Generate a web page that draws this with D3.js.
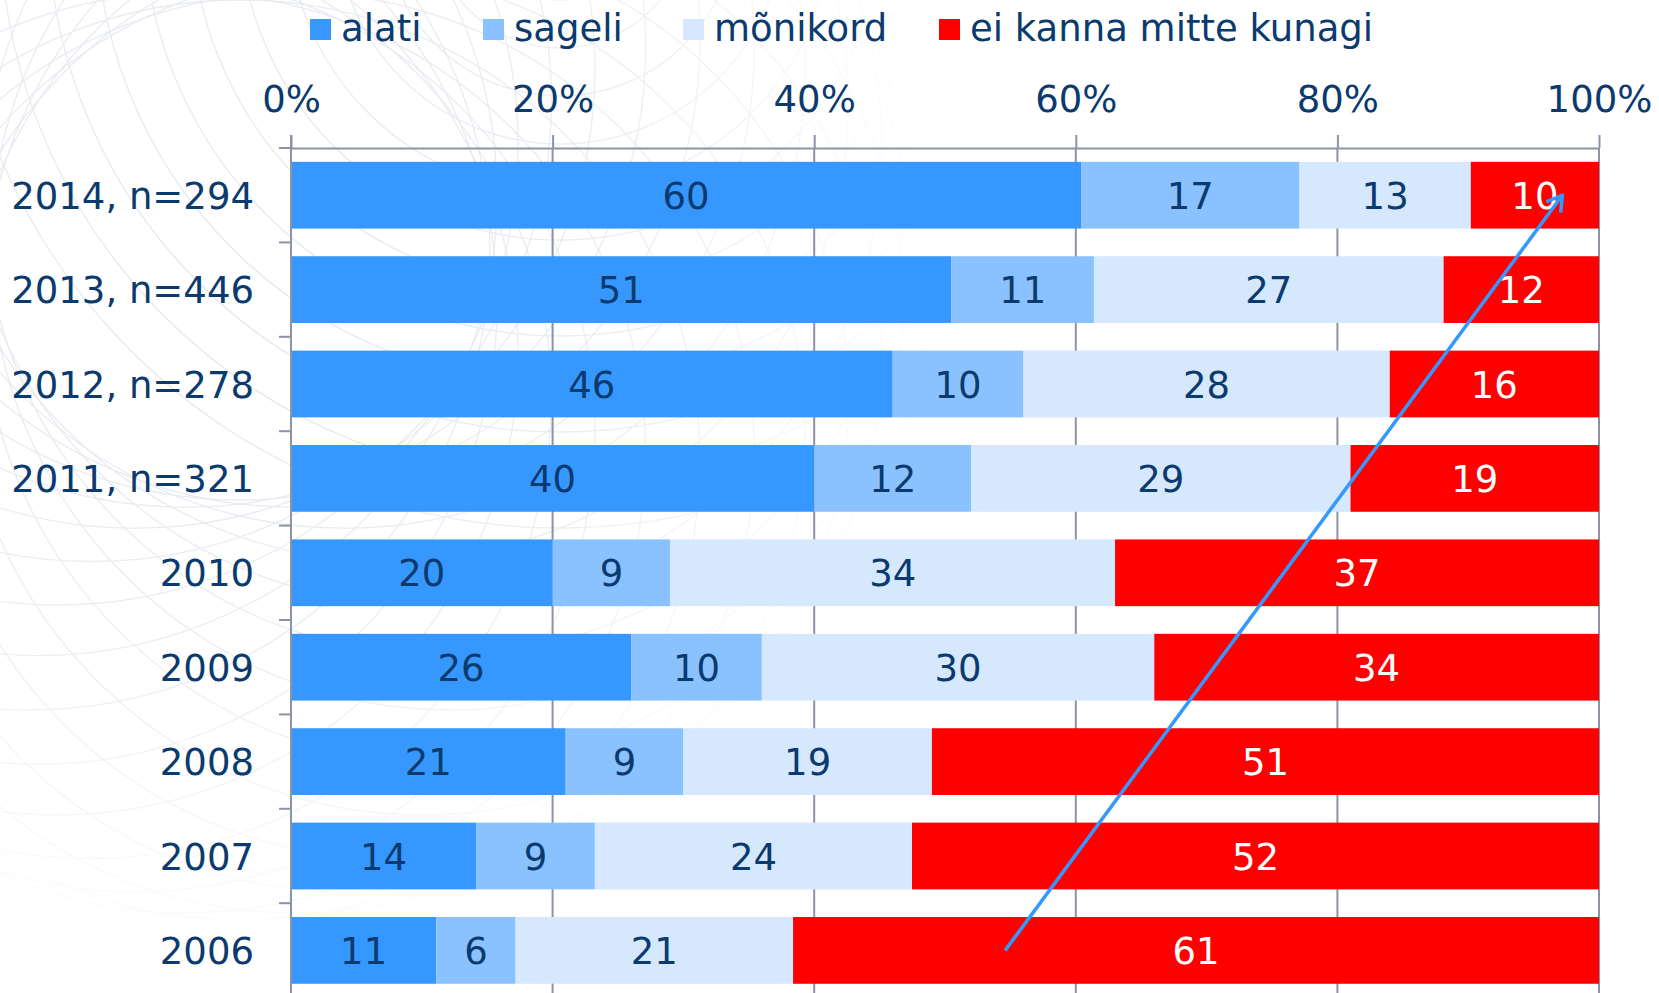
<!DOCTYPE html>
<html lang="et">

<head>
    <meta charset="UTF-8">
    <title>kiivri kandmine</title>
    <style>
        body {
            margin: 0;
            background: #fff;
        }

        svg text {
            font-family: "DejaVu Sans", Verdana, sans-serif;
            font-size: 37px;
            fill: #0b3a6e;
        }

        .grid line,
        .frame line,
        .axis path,
        .axis line {
            stroke: #8c93a5;
            stroke-width: 2;
        }
    </style>
</head>

<body>
    <script src="https://d3js.org/d3.v7.min.js"></script>
    <svg id="svg"></svg>
    <script>
        // andmed (protsendid, tulbad normeeritakse 100%-le)
        var categories = ["2014, n=294", "2013, n=446", "2012, n=278", "2011, n=321",
            "2010", "2009", "2008", "2007", "2006"];
        var seriesNames = ["alati", "sageli", "mõnikord", "ei kanna mitte kunagi"];
        var alati = [60.4, 51, 46, 40, 20, 26, 21, 14, 11];
        var sageli = [16.7, 11, 10, 12, 9, 10, 9, 9, 6];
        var monikord = [13.1, 27, 28, 29, 34, 30, 19, 24, 21];
        var eiKanna = [9.8, 12, 16, 19, 37, 34, 51, 52, 61];
        var tickValues = [0, 0.2, 0.4, 0.6, 0.8, 1];
        // trendinool: [osakaal, kategooria]
        var arrowFrom = [0.546, "2006"];
        var arrowTo = [0.972, "2014, n=294"];

        var colors = ["#3698fe", "#89c2ff", "#d5e8fd", "#ff0000"];
        var labelColors = ["#0b3a6e", "#0b3a6e", "#0b3a6e", "#ffffff"];

        var w = 1659,
            h = 993;

        var svg = d3.select("svg")
            .attr("width", w)
            .attr("height", h);

        // taustamuster (dekoratiivne)
        var defs = svg.append("defs");
        var grad = defs.append("radialGradient")
            .attr("id", "fade")
            .attr("gradientUnits", "userSpaceOnUse")
            .attr("cx", 230).attr("cy", 260).attr("r", 720);
        grad.append("stop").attr("offset", "0").attr("stop-color", "#fff").attr("stop-opacity", 1);
        grad.append("stop").attr("offset", "0.6").attr("stop-color", "#fff").attr("stop-opacity", 0.7);
        grad.append("stop").attr("offset", "1").attr("stop-color", "#fff").attr("stop-opacity", 0);
        defs.append("mask").attr("id", "bgmask")
            .append("rect")
            .attr("width", w).attr("height", h)
            .attr("fill", "url(#fade)");

        var bg = svg.append("g")
            .attr("mask", "url(#bgmask)")
            .attr("fill", "none")
            .attr("stroke", "#e3e7ed")
            .attr("stroke-width", 1.3);
        bg.selectAll("circle.ros")
            .data(d3.range(0, 360, 15))
            .enter().append("circle")
            .attr("class", "ros")
            .attr("cx", function (a) { return 240 + 210 * Math.cos(a * Math.PI / 180); })
            .attr("cy", function (a) { return 250 + 210 * Math.sin(a * Math.PI / 180); })
            .attr("r", 460);
        bg.selectAll("circle.con")
            .data(d3.range(80, 640, 48))
            .enter().append("circle")
            .attr("class", "con")
            .attr("cx", 560).attr("cy", -80)
            .attr("r", function (r) { return r; });

        // skaalad
        var x = d3.scaleLinear()
            .domain([0, 1])
            .range([291, 1599]);

        var step = 94.4;
        var y = d3.scaleBand()
            .domain(categories)
            .range([148, 148 + categories.length * step])
            .paddingInner(0.293)
            .paddingOuter(0.1465);

        var rows = categories.map(function (c, i) {
            return { cat: c, s0: alati[i], s1: sageli[i], s2: monikord[i], s3: eiKanna[i] };
        });
        var stack = d3.stack()
            .keys(["s0", "s1", "s2", "s3"])
            .offset(d3.stackOffsetExpand);
        var layers = stack(rows);

        // ruudustik
        svg.append("g")
            .attr("class", "grid")
            .selectAll("line")
            .data(tickValues.slice(1))
            .enter().append("line")
            .attr("x1", function (d) { return x(d); })
            .attr("x2", function (d) { return x(d); })
            .attr("y1", 148)
            .attr("y2", h + 10);

        // tulbad
        var g_layers = svg.append("g")
            .selectAll("g")
            .data(layers)
            .enter().append("g")
            .attr("fill", function (d, i) { return colors[i]; });

        g_layers.selectAll("rect")
            .data(function (d) { return d; })
            .enter().append("rect")
            .attr("x", function (d) { return x(d[0]); })
            .attr("width", function (d) { return x(d[1]) - x(d[0]); })
            .attr("y", function (d) { return y(d.data.cat); })
            .attr("height", y.bandwidth());

        // väärtused tulpades
        layers.forEach(function (layer, li) {
            svg.append("g")
                .selectAll("text")
                .data(layer)
                .enter().append("text")
                .attr("x", function (d) { return (x(d[0]) + x(d[1])) / 2; })
                .attr("y", function (d) { return y(d.data.cat) + y.bandwidth() / 2; })
                .attr("dy", "0.37em")
                .attr("text-anchor", "middle")
                .style("fill", labelColors[li])
                .text(function (d) { return Math.round(d.data[layer.key]); });
        });

        // ülemine telg
        var xAxis = d3.axisTop(x)
            .tickValues(tickValues)
            .tickFormat(d3.format(".0%"))
            .tickSize(13)
            .tickSizeOuter(0)
            .tickPadding(23);

        var gx = svg.append("g")
            .attr("class", "axis")
            .attr("transform", "translate(0,148)")
            .call(xAxis);
        gx.attr("font-size", null).attr("font-family", null);
        gx.selectAll("text")
            .attr("dy", "0")
            .attr("fill", null);

        // vasak telg
        var frame = svg.append("g").attr("class", "frame");
        frame.append("line")
            .attr("x1", x(0)).attr("x2", x(0))
            .attr("y1", 135).attr("y2", h + 10);
        frame.selectAll("line.tick")
            .data(d3.range(categories.length + 1))
            .enter().append("line")
            .attr("class", "tick")
            .attr("x1", x(0) - 12).attr("x2", x(0))
            .attr("y1", function (i) { return 148 + i * y.step(); })
            .attr("y2", function (i) { return 148 + i * y.step(); });

        svg.append("g")
            .selectAll("text")
            .data(categories)
            .enter().append("text")
            .attr("x", 254)
            .attr("y", function (d) { return y(d) + y.bandwidth() / 2; })
            .attr("dy", "0.37em")
            .attr("text-anchor", "end")
            .text(function (d) { return d; });

        // legend
        var legendX = [310, 483, 683, 939];
        var legend = svg.append("g")
            .selectAll("g")
            .data(seriesNames)
            .enter().append("g")
            .attr("transform", function (d, i) { return "translate(" + legendX[i] + ",0)"; });
        legend.append("rect")
            .attr("x", 0).attr("y", 19)
            .attr("width", 21).attr("height", 21)
            .attr("fill", function (d, i) { return colors[i]; });
        legend.append("text")
            .attr("x", 31).attr("y", 41)
            .text(function (d) { return d; });

        // trendinool
        defs.append("marker")
            .attr("id", "head")
            .attr("viewBox", "-16 -10 18 20")
            .attr("refX", 0).attr("refY", 0)
            .attr("markerWidth", 18).attr("markerHeight", 20)
            .attr("markerUnits", "userSpaceOnUse")
            .attr("orient", "auto")
            .append("path")
            .attr("d", "M-15,-9L0,0L-15,9")
            .attr("fill", "none")
            .attr("stroke", "#3399ff")
            .attr("stroke-width", 3.5);

        svg.append("line")
            .attr("x1", x(arrowFrom[0]))
            .attr("y1", y(arrowFrom[1]) + y.bandwidth() / 2)
            .attr("x2", x(arrowTo[0]))
            .attr("y2", y(arrowTo[1]) + y.bandwidth() / 2)
            .attr("stroke", "#3399ff")
            .attr("stroke-width", 3.5)
            .attr("marker-end", "url(#head)");
    </script>
</body>

</html>
